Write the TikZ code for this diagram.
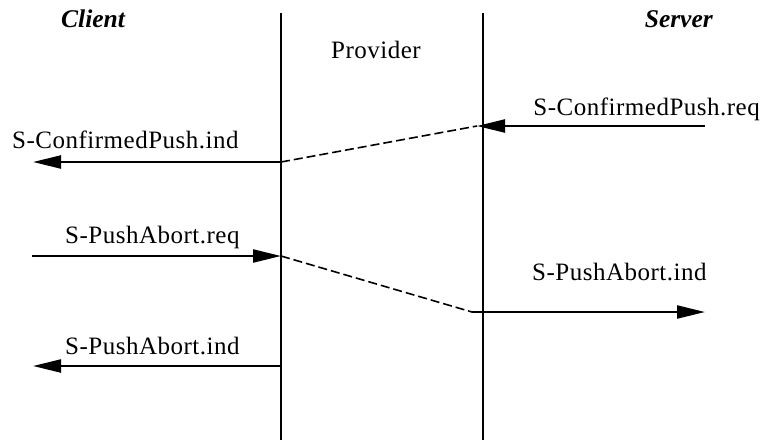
\documentclass[tikz,border=0pt]{standalone}
\usepackage{fontspec}
\setmainfont{Liberation Serif}
\newfontfamily\labfont{Liberation Serif}[LetterSpace=2]
\newfontfamily\hdfont{Liberation Serif}
\usetikzlibrary{arrows.meta}
\begin{document}
\begin{tikzpicture}[x=1pt,y=-1pt,
  lifeline/.style={line width=2.2pt},
  msg/.style={line width=2.2pt,-{Triangle[length=28pt,width=13pt]}},
  link/.style={line width=1.6pt,dash pattern=on 9pt off 4pt},
  lab/.style={inner sep=0pt,font=\labfont\fontsize{25}{30}\selectfont},
  hd/.style={inner sep=0pt,font=\hdfont\fontsize{25.5}{30}\selectfont\bfseries\itshape}]
\useasboundingbox (0,0) rectangle (763,440);
% lifelines
\coordinate (Lt) at (281,13);
\coordinate (Lb) at (281,440);
\coordinate (Rt) at (483,13);
\coordinate (Rb) at (483,440);
\draw[lifeline] (Lt) -- (Lb);
\draw[lifeline] (Rt) -- (Rb);
% headings
\node[hd,anchor=base west] (client) at (61,27) {Client};
\node[hd,anchor=base east] (server) at (713,27) {Server};
\node[lab,anchor=base] (provider) at (376,58) {Provider};
% message 1
\coordinate (m1s) at (705,126);
\coordinate (m1e) at (477,126);
\draw[msg] (m1s) -- (m1e);
\node[lab,anchor=base east] (l1) at (760,115) {S-ConfirmedPush.req};
% message 2
\coordinate (m2s) at (281,162);
\coordinate (m2e) at (33,162);
\draw[link] (m2s) -- (m1e);
\draw[msg] (m2s) -- (m2e);
\node[lab,anchor=base west] (l2) at (12,148) {S-ConfirmedPush.ind};
% message 3
\coordinate (m3s) at (32,256);
\coordinate (m3e) at (281,256);
\draw[msg] (m3s) -- (m3e);
\node[lab,anchor=base west] (l3) at (65,243) {S-PushAbort.req};
% message 4
\coordinate (m4s) at (472,312);
\coordinate (m4e) at (705,312);
\draw[link] (m3e) -- (m4s);
\draw[msg] (m4s) -- (m4e);
\node[lab,anchor=base west] (l4) at (532,280) {S-PushAbort.ind};
% message 5
\coordinate (m5s) at (281,366);
\coordinate (m5e) at (33,366);
\draw[msg] (m5s) -- (m5e);
\node[lab,anchor=base west] (l5) at (65,354) {S-PushAbort.ind};
\end{tikzpicture}
\end{document}
